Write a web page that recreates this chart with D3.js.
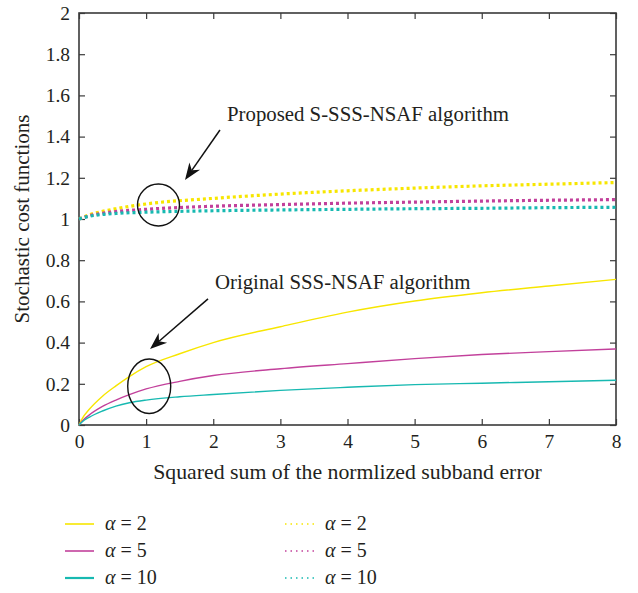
<!DOCTYPE html>
<html>
<head>
<meta charset="utf-8">
<script src="https://cdn.jsdelivr.net/npm/d3@7/dist/d3.min.js"></script>
<style>
  html, body { margin: 0; padding: 0; background: #fff; }
  svg { display: block; }
  svg text { font-family: "Liberation Serif", "Times New Roman", serif !important; fill: #231f20; }
</style>
</head>
<body>
<svg id="chart" width="638" height="593"></svg>
<script>
// ---- data ----
const xSolid = [0, 0.05, 0.15, 0.35, 0.55, 0.75, 1, 1.5, 2, 3, 4, 5, 6, 7, 8];
const solidA2  = [0, 0.032, 0.075, 0.140, 0.190, 0.235, 0.283, 0.346, 0.400, 0.477, 0.548, 0.602, 0.642, 0.675, 0.707];
const solidA5  = [0, 0.020, 0.048, 0.090, 0.121, 0.147, 0.175, 0.212, 0.240, 0.273, 0.298, 0.322, 0.342, 0.356, 0.369];
const solidA10 = [0, 0.016, 0.037, 0.068, 0.092, 0.108, 0.121, 0.137, 0.148, 0.168, 0.183, 0.196, 0.203, 0.210, 0.217];

const xDotted = [0, 0.15, 0.35, 0.55, 1, 2, 3, 4, 5, 6, 7, 8];
const dotA2  = [1.0, 1.020, 1.037, 1.050, 1.073, 1.100, 1.121, 1.137, 1.150, 1.161, 1.169, 1.177];
const dotA5  = [1.0, 1.015, 1.028, 1.036, 1.047, 1.062, 1.070, 1.077, 1.082, 1.087, 1.091, 1.094];
const dotA10 = [1.0, 1.013, 1.022, 1.027, 1.033, 1.040, 1.044, 1.047, 1.050, 1.052, 1.055, 1.057];

const xTicks = [0, 1, 2, 3, 4, 5, 6, 7, 8];
const yTicks = [0, 0.2, 0.4, 0.6, 0.8, 1, 1.2, 1.4, 1.6, 1.8, 2];

const alphaLabels = ["2", "5", "10"];
const colors = ["#f7e600", "#c2409b", "#17b9b1"];

const xLabel = "Squared sum of the normlized subband error";
const yLabel = "Stochastic cost functions";
const note1 = "Proposed S-SSS-NSAF algorithm";
const note2 = "Original SSS-NSAF algorithm";

// ---- layout ----
const FONT = '"Liberation Serif", "Times New Roman", serif';
const svg = d3.select("#chart").attr("font-family", FONT);
const L = 79, R = 616, T = 13, B = 425;
const x = d3.scaleLinear().domain([0, 8]).range([L, R]);
const y = d3.scaleLinear().domain([0, 2]).range([B, T]);

const axisColor = "#3a3a3a";

// frame
svg.append("rect").attr("x", L).attr("y", T).attr("width", R - L).attr("height", B - T)
  .attr("fill", "none").attr("stroke", axisColor).attr("stroke-width", 1.6);

// axes with inward ticks
function styleAxis(g) {
  g.attr("font-family", FONT).attr("font-size", 19.5);
  g.select(".domain").remove();
  g.selectAll(".tick line").attr("stroke", axisColor).attr("stroke-width", 1.2);
  g.selectAll(".tick text").attr("fill", "#231f20");
}
svg.append("g").attr("transform", `translate(0,${B})`)
  .call(d3.axisBottom(x).tickValues(xTicks).tickSize(-6).tickPadding(9).tickFormat(d3.format("~g")))
  .call(styleAxis);
svg.append("g").attr("transform", `translate(0,${T})`)
  .call(d3.axisTop(x).tickValues(xTicks).tickSize(-6).tickFormat(""))
  .call(styleAxis);
svg.append("g").attr("transform", `translate(${L},0)`)
  .call(d3.axisLeft(y).tickValues(yTicks).tickSize(-6).tickPadding(9).tickFormat(d3.format("~g")))
  .call(styleAxis);
svg.append("g").attr("transform", `translate(${R},0)`)
  .call(d3.axisRight(y).tickValues(yTicks).tickSize(-6).tickFormat(""))
  .call(styleAxis);

// curves
const line = d3.line().x(d => x(d[0])).y(d => y(d[1])).curve(d3.curveMonotoneX);
const plot = svg.append("g");
const solids = [solidA2, solidA5, solidA10];
const dots = [dotA2, dotA5, dotA10];
[0, 1, 2].forEach(i => {
  plot.append("path")
    .attr("d", line(xDotted.map((v, k) => [v, dots[i][k]])))
    .attr("fill", "none").attr("stroke", colors[i])
    .attr("stroke-width", 3.2).attr("stroke-dasharray", "3,3");
});
[0, 1, 2].forEach(i => {
  plot.append("path")
    .attr("d", line(xSolid.map((v, k) => [v, solids[i][k]])))
    .attr("fill", "none").attr("stroke", colors[i])
    .attr("stroke-width", 1.4);
});

// annotations
function arrow(x1, y1, x2, y2) {
  const px1 = x(x1), py1 = y(y1), px2 = x(x2), py2 = y(y2);
  const ang = Math.atan2(py2 - py1, px2 - px1);
  const hl = 17, hw = 6.5;
  const bx = px2 - hl * Math.cos(ang), by = py2 - hl * Math.sin(ang);
  const nx = -Math.sin(ang), ny = Math.cos(ang);
  const ix = px2 - hl * 0.7 * Math.cos(ang), iy = py2 - hl * 0.7 * Math.sin(ang);
  svg.append("line").attr("x1", px1).attr("y1", py1).attr("x2", ix).attr("y2", iy)
    .attr("stroke", "#111").attr("stroke-width", 1.5);
  svg.append("path")
    .attr("d", `M${px2},${py2} L${bx + nx * hw},${by + ny * hw} L${ix},${iy} L${bx - nx * hw},${by - ny * hw} Z`)
    .attr("fill", "#111");
}
function ellipse(cx, cy, rx, ry) {
  svg.append("ellipse").attr("cx", x(cx)).attr("cy", y(cy)).attr("rx", rx).attr("ry", ry)
    .attr("fill", "none").attr("stroke", "#111").attr("stroke-width", 1.4);
}
ellipse(1.184, 1.068, 21, 21);
ellipse(1.046, 0.188, 21.5, 27.2);
arrow(2.10, 1.432, 1.579, 1.189);
arrow(1.922, 0.612, 1.058, 0.369);
svg.append("text").attr("x", x(2.205)).attr("y", y(1.476)).attr("font-size", 20.8).text(note1);
svg.append("text").attr("x", x(2.026)).attr("y", y(0.660)).attr("font-size", 20.8).text(note2);

// axis labels
svg.append("text").attr("x", (L + R) / 2).attr("y", 479).attr("text-anchor", "middle")
  .attr("font-size", 21.8).text(xLabel);
svg.append("text").attr("transform", `translate(29,${(T + B) / 2}) rotate(-90)`).attr("text-anchor", "middle")
  .attr("font-size", 21).text(yLabel);

// legend
const rowsY = [524, 551, 578];
alphaLabels.forEach((a, i) => {
  svg.append("line").attr("x1", 65).attr("x2", 94).attr("y1", rowsY[i]).attr("y2", rowsY[i])
    .attr("stroke", colors[i]).attr("stroke-width", i === 2 ? 2.2 : 1.6);
  const t1 = svg.append("text").attr("x", 105).attr("y", rowsY[i] + 6).attr("font-size", 20);
  t1.append("tspan").attr("font-style", "italic").text("α");
  t1.append("tspan").text(" = " + a);
  svg.append("line").attr("x1", 285).attr("x2", 314).attr("y1", rowsY[i]).attr("y2", rowsY[i])
    .attr("stroke", colors[i]).attr("stroke-width", 1.6).attr("stroke-dasharray", "1.5,4");
  const t2 = svg.append("text").attr("x", 325).attr("y", rowsY[i] + 6).attr("font-size", 20);
  t2.append("tspan").attr("font-style", "italic").text("α");
  t2.append("tspan").text(" = " + a);
});
</script>
</body>
</html>
